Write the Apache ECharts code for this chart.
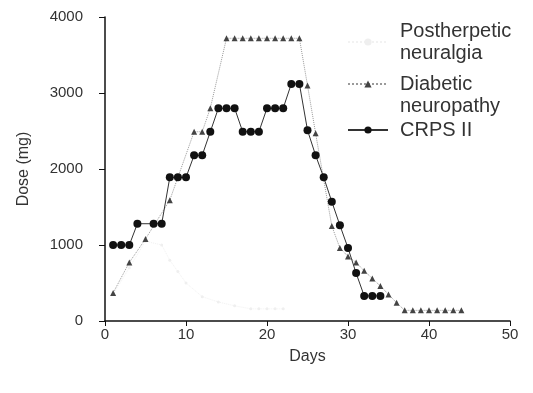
<!DOCTYPE html>
<html>
<head>
<meta charset="utf-8">
<script src="https://cdn.jsdelivr.net/npm/echarts@6/dist/echarts.min.js"></script>
<style>
  html, body { margin: 0; padding: 0; background: #fff; }
  #main { width: 533px; height: 393px; }
</style>
</head>
<body>
<div id="main"></div>
<script>
// (days vs dose in mg)
const phnDays = [1, 3, 5, 7, 8, 9, 10, 12, 14, 16, 18, 19, 20, 21, 22]
const phnDose = [350, 700, 1050, 1000, 800, 650, 500, 320, 250, 200, 160, 160, 160, 160, 160]

const dnDays = [1, 3, 5, 8, 11, 12, 13, 15, 16, 17, 18, 19, 20, 21, 22, 23, 24, 25, 26, 28, 29, 30, 31, 32, 33, 34, 35, 36, 37, 38, 39, 40, 41, 42, 43, 44]
const dnDose = [370, 770, 1080, 1590, 2490, 2490, 2800, 3720, 3720, 3720, 3720, 3720, 3720, 3720, 3720, 3720, 3720, 3100, 2470, 1250, 960, 850, 770, 660, 560, 460, 350, 240, 140, 140, 140, 140, 140, 140, 140, 140]

const crpsDays = [1, 2, 3, 4, 6, 7, 8, 9, 10, 11, 12, 13, 14, 15, 16, 17, 18, 19, 20, 21, 22, 23, 24, 25, 26, 27, 28, 29, 30, 31, 32, 33, 34]
const crpsDose = [1000, 1000, 1000, 1280, 1280, 1280, 1890, 1890, 1890, 2180, 2180, 2490, 2800, 2800, 2800, 2490, 2490, 2490, 2800, 2800, 2800, 3120, 3120, 2510, 2180, 1890, 1570, 1260, 960, 630, 330, 330, 330]

const xTicks = { min: 0, max: 50, interval: 10 }
const yTicks = { min: 0, max: 4000, interval: 1000 }

const seriesNames = ['Postherpetic neuralgia', 'Diabetic neuropathy', 'CRPS II']

const FONT = 'Liberation Sans'
const pairs = (xs, ys) => xs.map((x, i) => [x, ys[i]])

// two-line names, icon lined up with the first line
const legendText = {
  'Postherpetic neuralgia': '{a|Postherpetic}\n{a|neuralgia}',
  'Diabetic neuropathy': '{z| }\n{a|Diabetic}\n{a|neuropathy}',
  'CRPS II': '{w| }\n{a|CRPS II}\n{w| }'
}

const chart = echarts.init(document.getElementById('main'))
chart.setOption({
  animation: false,
  backgroundColor: '#fff',
  grid: { left: 105, right: 23, top: 17, bottom: 72 },
  legend: {
    orient: 'vertical',
    left: 347,
    top: 21,
    padding: 0,
    itemGap: -11,
    itemWidth: 40,
    itemHeight: 9,
    data: seriesNames,
    formatter: name => legendText[name],
    textStyle: {
      padding: [0, 0, 0, 7],
      rich: {
        a: { fontFamily: FONT, fontSize: 20, lineHeight: 22, color: '#333' },
        z: { fontFamily: FONT, fontSize: 20, lineHeight: 22 },
        w: { fontFamily: FONT, fontSize: 12, lineHeight: 16 }
      }
    }
  },
  xAxis: {
    type: 'value',
    min: xTicks.min,
    max: xTicks.max,
    interval: xTicks.interval,
    name: 'Days',
    nameLocation: 'middle',
    nameGap: 28,
    nameTextStyle: { fontFamily: FONT, fontSize: 16, color: '#333' },
    axisLine: { lineStyle: { color: '#111', width: 1.5 } },
    axisTick: { show: true, length: 5, lineStyle: { color: '#111' } },
    axisLabel: { margin: 6, fontFamily: FONT, fontSize: 15, color: '#333' },
    splitLine: { show: false }
  },
  yAxis: {
    type: 'value',
    min: yTicks.min,
    max: yTicks.max,
    interval: yTicks.interval,
    name: 'Dose (mg)',
    nameLocation: 'middle',
    nameGap: 73,
    nameTextStyle: { fontFamily: FONT, fontSize: 16, color: '#333' },
    axisLine: { show: true, lineStyle: { color: '#111', width: 1.5 } },
    axisTick: { show: true, length: 6, lineStyle: { color: '#111' } },
    axisLabel: { margin: 22, fontFamily: FONT, fontSize: 15, color: '#333', formatter: v => String(v) },
    splitLine: { show: false }
  },
  series: [
    {
      name: seriesNames[0],
      type: 'line',
      data: pairs(phnDays, phnDose),
      symbol: 'circle',
      symbolSize: 3,
      itemStyle: { color: '#efefef' },
      lineStyle: { color: '#f2f2f2', width: 1, type: 'dotted' },
      z: 1
    },
    {
      name: seriesNames[1],
      type: 'line',
      data: pairs(dnDays, dnDose),
      symbol: 'triangle',
      symbolSize: 6,
      itemStyle: { color: '#444' },
      lineStyle: { color: '#9a9a9a', width: 1, type: 'dotted' },
      z: 2
    },
    {
      name: seriesNames[2],
      type: 'line',
      data: pairs(crpsDays, crpsDose),
      symbol: 'circle',
      symbolSize: 8,
      itemStyle: { color: '#111' },
      lineStyle: { color: '#333', width: 1 },
      z: 3
    }
  ]
})
</script>
</body>
</html>
